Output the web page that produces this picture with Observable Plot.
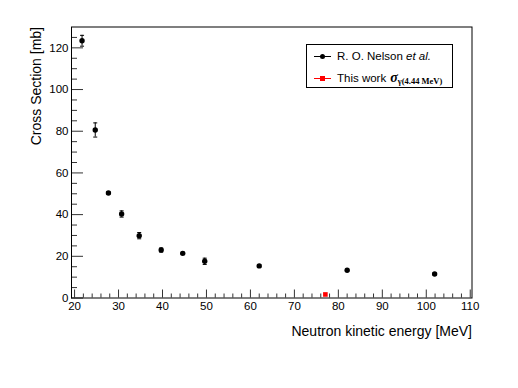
<!DOCTYPE html>
<html>
<head>
<meta charset="utf-8">
<script src="https://cdn.jsdelivr.net/npm/d3@7"></script>
<script src="https://cdn.jsdelivr.net/npm/@observablehq/plot@0.6"></script>
<style>
  html, body { margin: 0; padding: 0; background: #fff; }
  #wrap { position: relative; width: 518px; height: 388px; font-family: "Liberation Sans", Arial, sans-serif; }
  #legend { position: absolute; left: 306px; top: 44px; width: 145px; height: 42px; border: 1px solid #000; background: #fff; font-size: 11.5px; color: #000; }
  .row { position: absolute; left: 0; height: 14px; display: flex; align-items: center; white-space: nowrap; }
  .sym { position: relative; width: 17px; height: 14px; margin-left: 7px; margin-right: 6px; }
  .sym .ln { position: absolute; left: 0; right: 0; top: 6.5px; height: 1px; }
  .sym .mk { position: absolute; }
  .sig { font-family: "Liberation Serif", "DejaVu Serif", serif; font-weight: bold; font-style: italic; font-size: 14px; margin-left: 4px; }
  .sub { font-family: "Liberation Serif", "DejaVu Serif", serif; font-weight: bold; font-size: 8.5px; position: relative; top: 2px; }
</style>
</head>
<body>
<div id="wrap"></div>
<script>
// Data: R. O. Nelson et al.
const nelsonEnergy = [21.7, 24.7, 27.7, 30.7, 34.7, 39.7, 44.6, 49.6, 62.0, 82.0, 101.9];
const nelsonXS     = [123.4, 80.6, 50.4, 40.3, 29.9, 23.0, 21.4, 17.6, 15.4, 13.3, 11.5];
const nelsonErr    = [2.6, 3.4, 0.6, 1.5, 1.5, 1.0, 0.6, 1.5, 0.5, 0.5, 0.5];
// This work
const thisEnergy = [77.05];
const thisXS     = [1.7];
// Axis ticks
const xMajor = [20, 30, 40, 50, 60, 70, 80, 90, 100, 110];
const xMinor = d3.range(20, 111, 2).filter(v => v % 10 !== 0);
const yMajor = [0, 20, 40, 60, 80, 100, 120];
const yMinor = d3.range(0, 130, 5).filter(v => v % 20 !== 0);

const nelson = nelsonEnergy.map((e, i) => ({e, xs: nelsonXS[i], err: nelsonErr[i]}));
const ours = thisEnergy.map((e, i) => ({e, xs: thisXS[i]}));

const capSymbol = { draw(ctx, size) { ctx.moveTo(-2, 0); ctx.lineTo(2, 0); } };
const font = "Liberation Sans, Arial, sans-serif";

const chart = Plot.plot({
  width: 518,
  height: 388,
  marginLeft: 71,
  marginTop: 26.5,
  marginRight: 46.5,
  marginBottom: 90.5,
  style: { fontFamily: font, fontSize: "11px", color: "#000", background: "#fff" },
  x: { domain: [19.3, 110.4] },
  y: { domain: [0, 130] },
  marks: [
    Plot.axisX({ticks: xMajor, tickSize: -8, tickPadding: 12, tickFormat: d => String(d), label: null, fontSize: 11.5, stroke: "#333"}),
    Plot.axisX({ticks: xMinor, tickSize: -4, text: null, label: null, stroke: "#333"}),
    Plot.axisY({ticks: yMajor, tickSize: -12, tickPadding: 15, tickFormat: d => String(d), label: null, fontSize: 11.5, stroke: "#333"}),
    Plot.axisY({ticks: yMinor, tickSize: -6, text: null, label: null, stroke: "#333"}),
    Plot.frame({stroke: "#000", strokeWidth: 1}),
    Plot.ruleX(nelson, {x: "e", y1: d => d.xs - d.err, y2: d => d.xs + d.err, stroke: "#000", strokeWidth: 1}),
    Plot.dot(nelson, {x: "e", y: d => d.xs + d.err, symbol: capSymbol, stroke: "#000", strokeWidth: 1, r: 2}),
    Plot.dot(nelson, {x: "e", y: d => d.xs - d.err, symbol: capSymbol, stroke: "#000", strokeWidth: 1, r: 2}),
    Plot.dot(nelson, {x: "e", y: "xs", r: 2.7, fill: "#000", stroke: "none"}),
    Plot.dot(ours, {x: "e", y: "xs", symbol: "square", r: 2.6, fill: "#ff0000", stroke: "none"}),
    Plot.text(["Cross Section [mb]"], {frameAnchor: "top-left", dx: -35, dy: 0, rotate: -90, textAnchor: "end", lineAnchor: "middle", fontSize: 14, fill: "#000"}),
    Plot.text(["Neutron kinetic energy [MeV]"], {frameAnchor: "bottom-right", dx: 0, dy: 34, textAnchor: "end", lineAnchor: "middle", fontSize: 14, fill: "#000"})
  ]
});

const wrap = document.getElementById("wrap");
wrap.appendChild(chart);

const legend = document.createElement("div");
legend.id = "legend";
legend.innerHTML = `
  <div class="row" style="top:4px">
    <div class="sym"><div class="ln" style="background:#000"></div><div class="mk" style="left:6px;top:4.5px;width:5px;height:5px;border-radius:50%;background:#000"></div></div>
    <span>R. O. Nelson <i>et al.</i></span>
  </div>
  <div class="row" style="top:26px">
    <div class="sym"><div class="ln" style="background:#ff0000"></div><div class="mk" style="left:6px;top:4.5px;width:5px;height:5px;background:#ff0000"></div></div>
    <span>This work<span class="sig">σ</span><span class="sub">γ(4.44 MeV)</span></span>
  </div>`;
wrap.appendChild(legend);
</script>
</body>
</html>
